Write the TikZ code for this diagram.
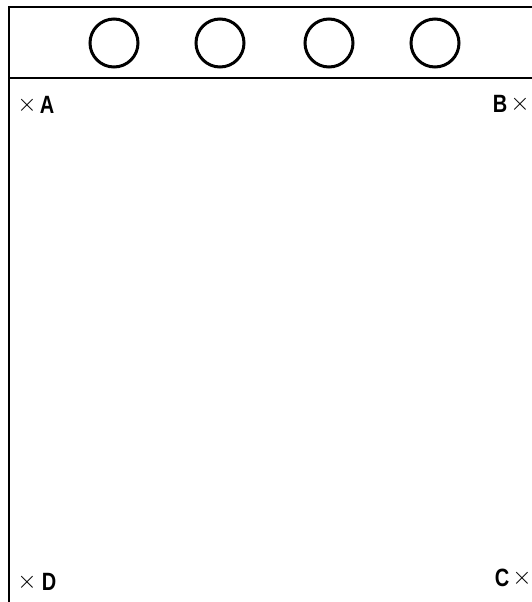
\documentclass[tikz,border=0pt]{standalone}
\usepackage{fontspec}
\setmainfont{Liberation Sans}
\begin{document}
\begin{tikzpicture}[x=1pt,y=-1pt,
  frameline/.style={line width=1.8pt,black},
  hole/.style={circle,draw,line width=3pt,minimum size=48pt,inner sep=0pt},
  lbl/.style={font=\fontsize{25}{25}\selectfont\bfseries,inner sep=0pt,xscale=0.8},
  crs/.style={font=\fontsize{28}{28}\selectfont,inner sep=0pt}]
\useasboundingbox (0,0) rectangle (532,602);
\coordinate (tl) at (9,7);
\coordinate (tr) at (532,7);
\coordinate (ml) at (9,78);
\coordinate (mr) at (532,78);
\coordinate (bl) at (9,602);
\draw[frameline] (tr) -- (tl) -- (bl);
\draw[frameline] (ml) -- (mr);
\node[hole] (h1) at (114,43) {};
\node[hole] (h2) at (220,43) {};
\node[hole] (h3) at (329,43) {};
\node[hole] (h4) at (435,43) {};
\node[crs] (xA) at (27,105) {$\times$};
\node[lbl] (A) at (47,105) {A};
\node[lbl] (B) at (500,104) {B};
\node[crs] (xB) at (520,104) {$\times$};
\node[crs] (xD) at (27,582) {$\times$};
\node[lbl] (D) at (49,582) {D};
\node[lbl] (C) at (502,578) {C};
\node[crs] (xC) at (522,578) {$\times$};
\end{tikzpicture}
\end{document}
